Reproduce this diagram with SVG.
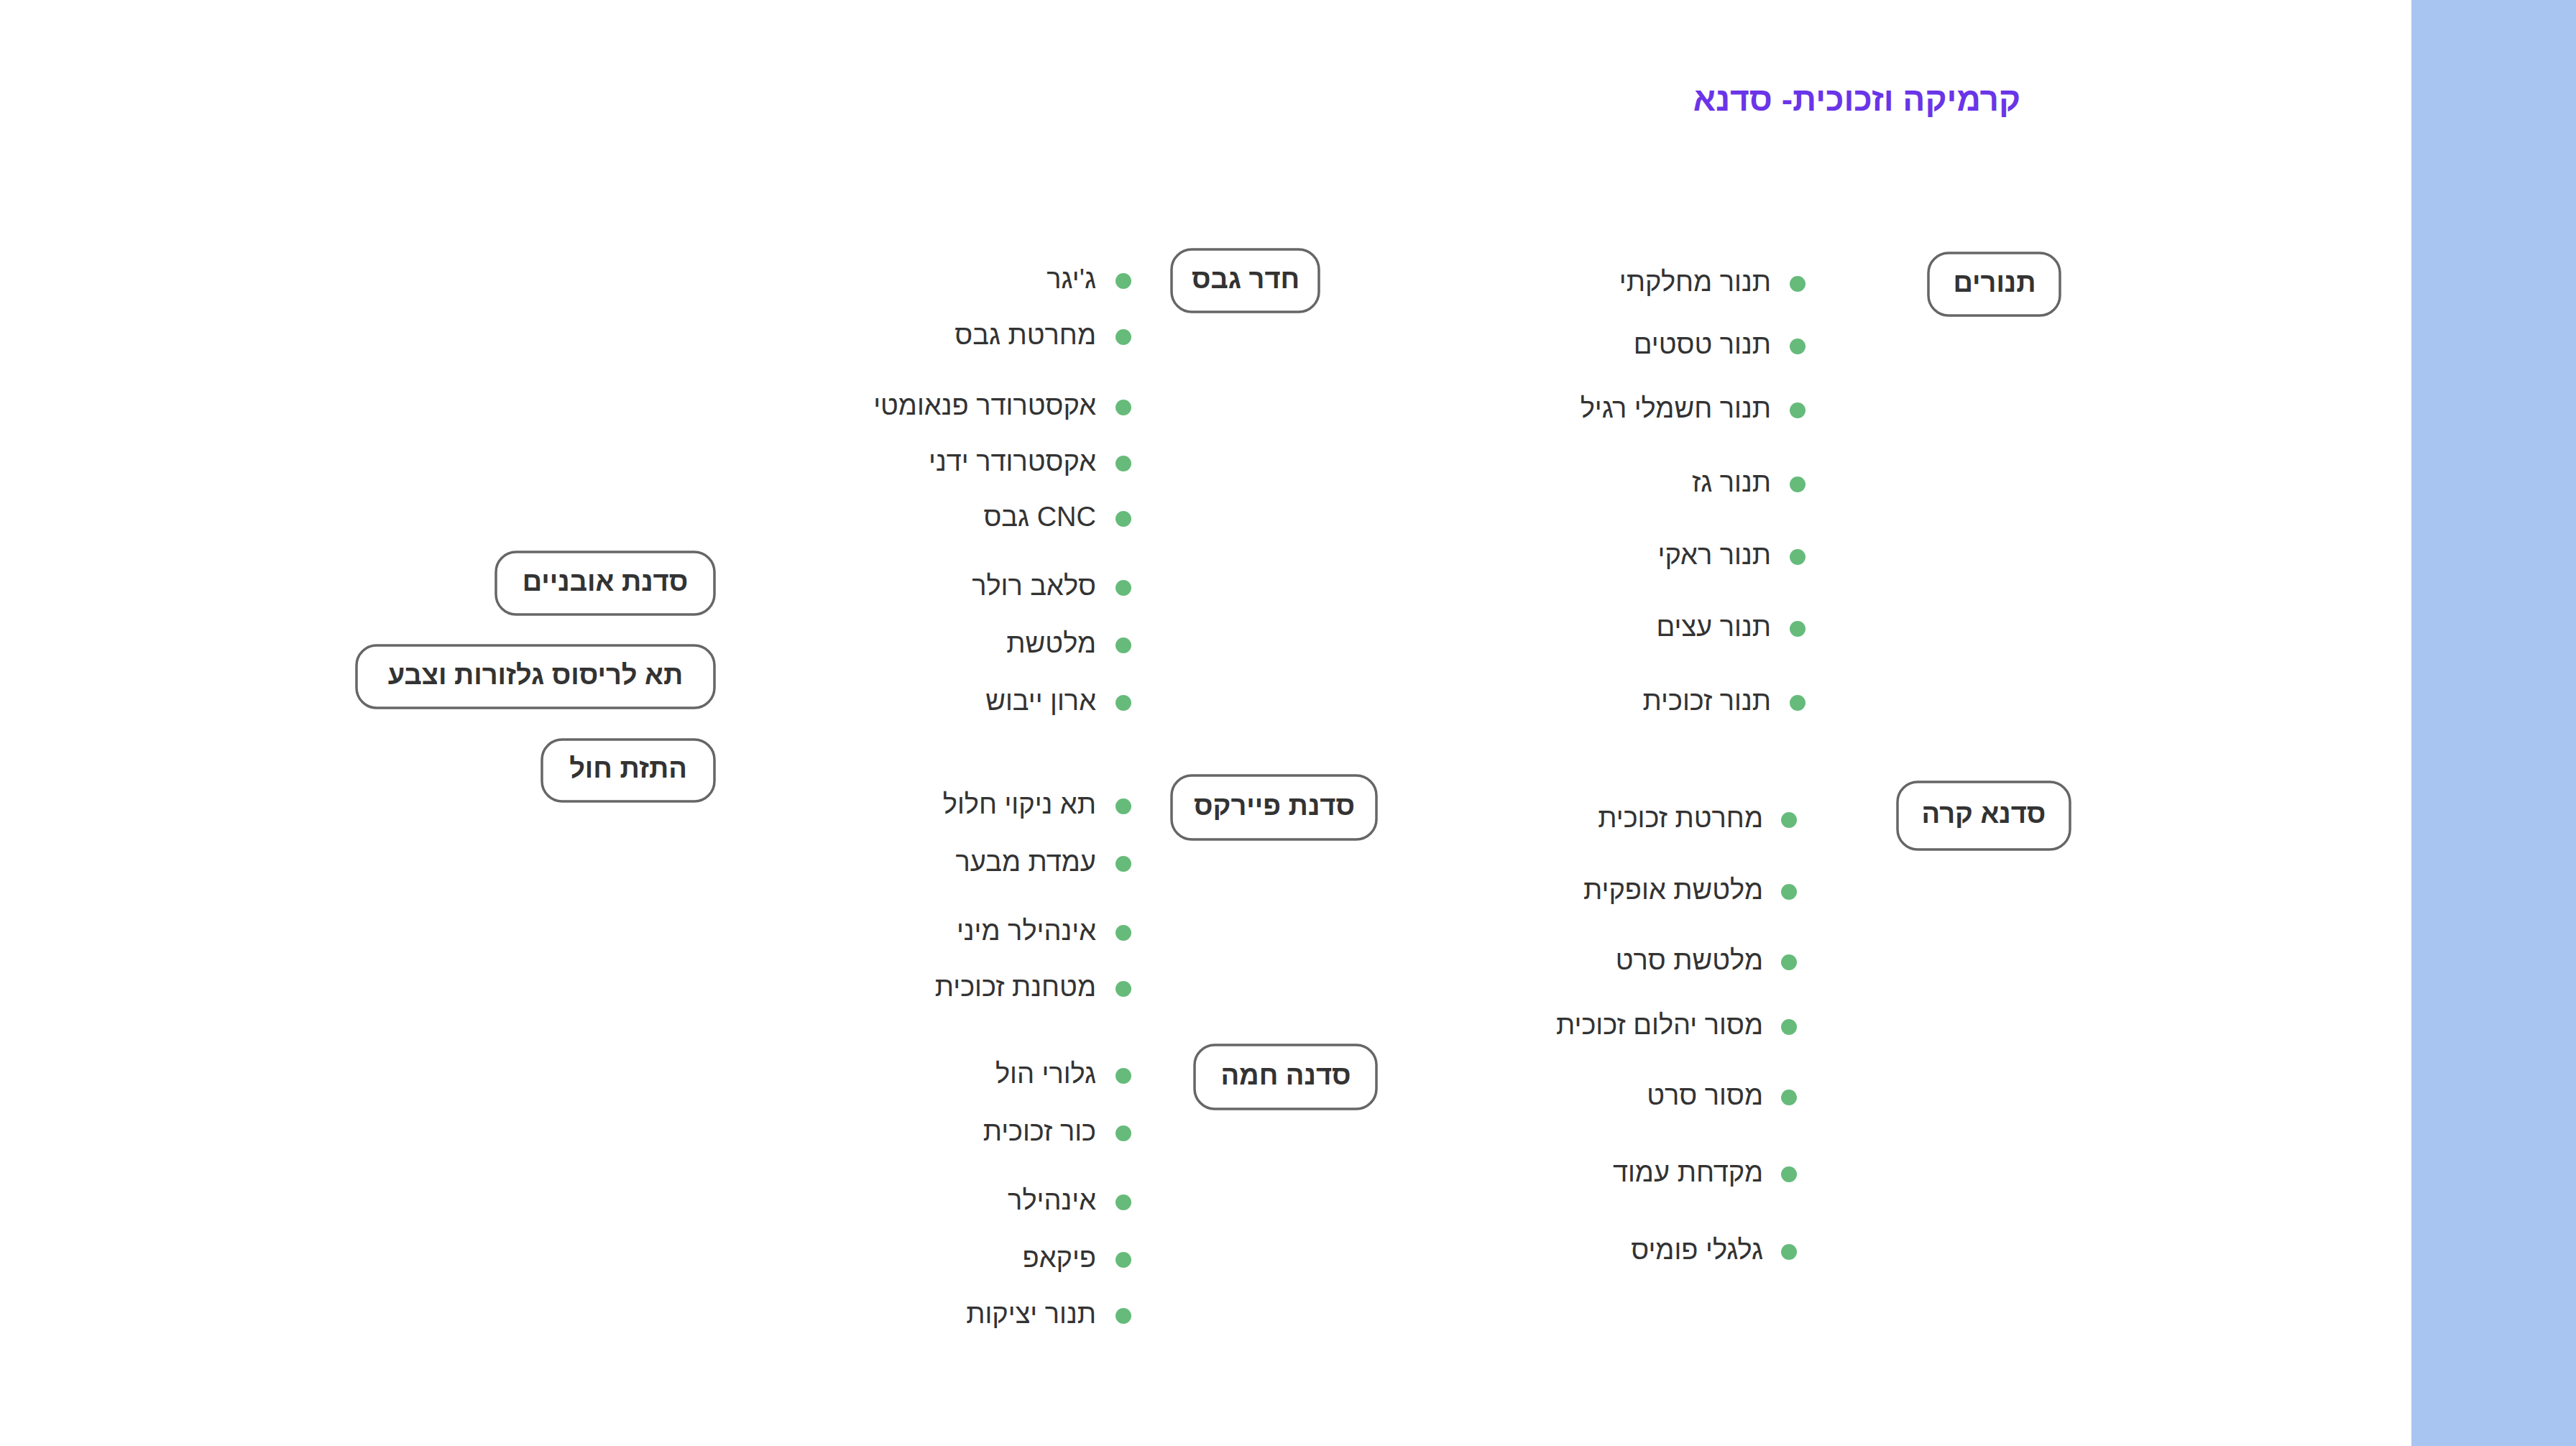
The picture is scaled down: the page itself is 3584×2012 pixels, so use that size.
<svg xmlns="http://www.w3.org/2000/svg" width="3584" height="2012" viewBox="0 0 3584 2012">
<style>
text{font-family:"Liberation Sans","DejaVu Sans",sans-serif;direction:rtl}
.it{font-size:38px;fill:#333;text-anchor:start;dominant-baseline:middle}
.nd{font-size:38px;font-weight:bold;fill:#333;text-anchor:middle;dominant-baseline:middle}
.bx{fill:#fff;stroke:#666;stroke-width:3.5}
.dt{fill:#66bb7a}
</style>
<rect width="3584" height="2012" fill="#fff"/>
<rect x="3355" y="0" width="229" height="2012" fill="#a8c4f0"/>
<text x="2811" y="142" font-size="46" font-weight="bold" fill="#6a35e8" dominant-baseline="middle" text-anchor="start">קרמיקה וזכוכית- סדנא</text>
<g id="connectors"/>
<g id="n-tanurim"><rect class="bx" x="2683" y="352" width="183" height="87" rx="28"/><text class="nd" x="2775" y="396">תנורים</text></g>
<g id="n-heder-gevs"><rect class="bx" x="1630" y="347" width="205" height="87" rx="28"/><text class="nd" x="1733" y="391">חדר גבס</text></g>
<g id="n-pyrex"><rect class="bx" x="1630" y="1079" width="285" height="89" rx="28"/><text class="nd" x="1773" y="1124">סדנת פיירקס</text></g>
<g id="n-hama"><rect class="bx" x="1662" y="1454" width="253" height="89" rx="28"/><text class="nd" x="1789" y="1499">סדנה חמה</text></g>
<g id="n-kara"><rect class="bx" x="2640" y="1088" width="240" height="94" rx="28"/><text class="nd" x="2760" y="1135">סדנא קרה</text></g>
<g id="n-ovnaim"><rect class="bx" x="690" y="768" width="304" height="87" rx="28"/><text class="nd" x="842" y="812">סדנת אובניים</text></g>
<g id="n-risus"><rect class="bx" x="496" y="898" width="498" height="87" rx="28"/><text class="nd" x="745" y="942">תא לריסוס גלזורות וצבע</text></g>
<g id="n-hatazat"><rect class="bx" x="754" y="1029" width="240" height="86" rx="28"/><text class="nd" x="874" y="1072">התזת חול</text></g>
<g id="items-tanurim">
<circle class="dt" cx="2501" cy="395" r="11"/><text class="it" x="2464" y="395">תנור מחלקתי</text>
<circle class="dt" cx="2501" cy="482" r="11"/><text class="it" x="2464" y="482">תנור טסטים</text>
<circle class="dt" cx="2501" cy="571" r="11"/><text class="it" x="2464" y="571">תנור חשמלי רגיל</text>
<circle class="dt" cx="2501" cy="674" r="11"/><text class="it" x="2464" y="674">תנור גז</text>
<circle class="dt" cx="2501" cy="775" r="11"/><text class="it" x="2464" y="775">תנור ראקי</text>
<circle class="dt" cx="2501" cy="875" r="11"/><text class="it" x="2464" y="875">תנור עצים</text>
<circle class="dt" cx="2501" cy="978" r="11"/><text class="it" x="2464" y="978">תנור זכוכית</text>
</g>
<g id="items-kara">
<circle class="dt" cx="2489" cy="1141" r="11"/><text class="it" x="2453" y="1141">מחרטת זכוכית</text>
<circle class="dt" cx="2489" cy="1241" r="11"/><text class="it" x="2453" y="1241">מלטשת אופקית</text>
<circle class="dt" cx="2489" cy="1339" r="11"/><text class="it" x="2453" y="1339">מלטשת סרט</text>
<circle class="dt" cx="2489" cy="1429" r="11"/><text class="it" x="2453" y="1429">מסור יהלום זכוכית</text>
<circle class="dt" cx="2489" cy="1527" r="11"/><text class="it" x="2453" y="1527">מסור סרט</text>
<circle class="dt" cx="2489" cy="1634" r="11"/><text class="it" x="2453" y="1634">מקדחת עמוד</text>
<circle class="dt" cx="2489" cy="1742" r="11"/><text class="it" x="2453" y="1742">גלגלי פומיס</text>
</g>
<g id="items-left">
<circle class="dt" cx="1563" cy="391" r="11"/><text class="it" x="1525" y="391">ג'יגר</text>
<circle class="dt" cx="1563" cy="469" r="11"/><text class="it" x="1525" y="469">מחרטת גבס</text>
<circle class="dt" cx="1563" cy="567" r="11"/><text class="it" x="1525" y="567">אקסטרודר פנאומטי</text>
<circle class="dt" cx="1563" cy="645" r="11"/><text class="it" x="1525" y="645">אקסטרודר ידני</text>
<circle class="dt" cx="1563" cy="722" r="11"/><text class="it" x="1525" y="722">CNC גבס</text>
<circle class="dt" cx="1563" cy="818" r="11"/><text class="it" x="1525" y="818">סלאב רולר</text>
<circle class="dt" cx="1563" cy="898" r="11"/><text class="it" x="1525" y="898">מלטשת</text>
<circle class="dt" cx="1563" cy="978" r="11"/><text class="it" x="1525" y="978">ארון ייבוש</text>
<circle class="dt" cx="1563" cy="1122" r="11"/><text class="it" x="1525" y="1122">תא ניקוי חלול</text>
<circle class="dt" cx="1563" cy="1202" r="11"/><text class="it" x="1525" y="1202">עמדת מבער</text>
<circle class="dt" cx="1563" cy="1298" r="11"/><text class="it" x="1525" y="1298">אינהילר מיני</text>
<circle class="dt" cx="1563" cy="1376" r="11"/><text class="it" x="1525" y="1376">מטחנת זכוכית</text>
<circle class="dt" cx="1563" cy="1497" r="11"/><text class="it" x="1525" y="1497">גלורי הול</text>
<circle class="dt" cx="1563" cy="1577" r="11"/><text class="it" x="1525" y="1577">כור זכוכית</text>
<circle class="dt" cx="1563" cy="1673" r="11"/><text class="it" x="1525" y="1673">אינהילר</text>
<circle class="dt" cx="1563" cy="1753" r="11"/><text class="it" x="1525" y="1753">פיקאפ</text>
<circle class="dt" cx="1563" cy="1831" r="11"/><text class="it" x="1525" y="1831">תנור יציקות</text>
</g>
</svg>
